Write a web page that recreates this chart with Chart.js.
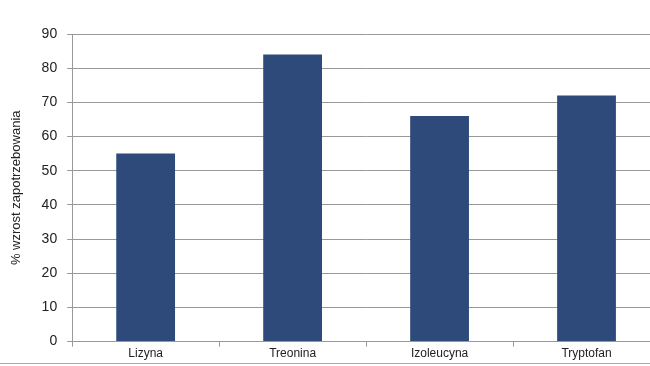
<!DOCTYPE html>
<html>
<head>
<meta charset="utf-8">
<script src="https://cdn.jsdelivr.net/npm/chart.js@4"></script>
<style>
  html, body { margin: 0; padding: 0; background: #fff; overflow: hidden; }
  #wrap { position: relative; width: 660px; height: 363px; border-bottom: 1px solid #aaa; overflow: hidden; }
  canvas { display: block; }
</style>
</head>
<body>
<div id="wrap"><canvas id="c" width="660" height="361"></canvas></div>
<script>
const categories = ['Lizyna', 'Treonina', 'Izoleucyna', 'Tryptofan'];
const values = [55, 84, 66, 72];
const yTitle = '% wzrost zapotrzebowania';

new Chart(document.getElementById('c'), {
  type: 'bar',
  data: {
    labels: categories,
    datasets: [{
      data: values,
      backgroundColor: '#2D4A7B',
      barPercentage: 0.4,
      categoryPercentage: 1
    }]
  },
  options: {
    responsive: false,
    animation: false,
    layout: { padding: { top: 34, right: 0, bottom: 0, left: 9 } },
    plugins: { legend: { display: false }, tooltip: { enabled: false } },
    scales: {
      x: {
        grid: { drawOnChartArea: false, drawTicks: true, tickLength: 5, color: '#999' },
        border: { color: '#999' },
        ticks: { color: '#222', font: { family: 'Arial, Liberation Sans', size: 12 }, padding: 0 }
      },
      y: {
        min: 0, max: 90,
        ticks: { stepSize: 10, color: '#222', font: { family: 'Arial, Liberation Sans', size: 14 }, padding: 10 },
        grid: { color: '#999', tickLength: 5 },
        border: { color: '#999' },
        title: { display: true, text: yTitle, color: '#222', font: { family: 'Arial, Liberation Sans', size: 13 }, padding: { top: 0, bottom: 7 } }
      }
    }
  }
});
</script>
</body>
</html>
